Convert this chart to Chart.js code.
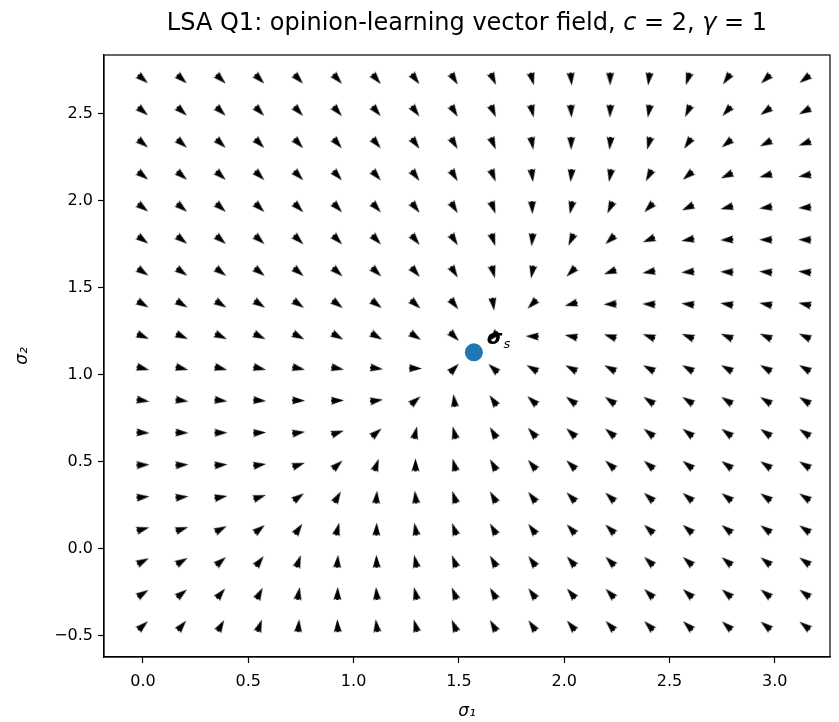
<!DOCTYPE html>
<html>
<head>
<meta charset="utf-8">
<script src="https://cdn.jsdelivr.net/npm/chart.js@4.4.1/dist/chart.umd.min.js"></script>
<style>
  html, body { margin: 0; padding: 0; background: #fff; }
  #wrap { width: 839px; height: 722px; position: relative; }
</style>
</head>
<body>
<div id="wrap"><canvas id="quiver"></canvas></div>
<script>
// sigma1 grid (columns)
const sigma1Grid = [0.000, 0.185, 0.370, 0.554, 0.739, 0.924, 1.109, 1.294, 1.478,
                    1.663, 1.848, 2.033, 2.218, 2.402, 2.587, 2.772, 2.957, 3.142];
// sigma2 grid (rows, top to bottom)
const sigma2Rows = [2.701, 2.516, 2.331, 2.146, 1.962, 1.777, 1.592, 1.407, 1.222,
                    1.038, 0.853, 0.668, 0.483, 0.298, 0.114, -0.071, -0.256, -0.441];
// arrow direction in degrees (counter-clockwise from +sigma1), one row per sigma2Rows entry
const dirRows = [
  [-40, -42, -44, -45, -47, -48, -50, -53, -58, -65, -75, -85, -90, -97, -108, -125, -137, -143],
  [-40, -42, -44, -46, -47, -49, -50, -53, -58, -66, -77, -87, -92, -100, -115, -132, -145, -152],
  [-39, -41, -43, -45, -47, -49, -50, -54, -59, -67, -80, -90, -95, -105, -125, -142, -153, -160],
  [-38, -40, -42, -44, -46, -48, -49, -53, -59, -68, -83, -95, -100, -118, -140, -155, -165, -170],
  [-37, -39, -41, -43, -45, -47, -48, -52, -58, -70, -88, -102, -115, -135, -155, -166, -172, -176],
  [-36, -38, -40, -42, -44, -46, -47, -51, -57, -72, -95, -115, -138, -158, -170, -177, 180, 179],
  [-34, -35, -37, -38, -40, -42, -44, -49, -58, -75, -100, -135, -160, -170, -176, 178, 176, 175],
  [-30, -31, -32, -33, -35, -37, -37, -42, -52, -82, -135, -165, -178, 178, 174, 171, 169, 167],
  [-23, -24, -25, -26, -28, -30, -30, -33, -45, -135, 178, 168, 162, 160, 158, 157, 156, 155],
  [-15, -14, -14, -13, -12, -11, -8, -2, 45, 138, 150, 152, 152, 152, 151, 151, 150, 150],
  [-9, -8, -7, -5, -2, 2, 8, 40, 97, 125, 138, 143, 145, 146, 147, 147, 148, 148],
  [-3, -2, 0, 3, 8, 18, 40, 77, 104, 121, 131, 137, 140, 142, 143, 144, 145, 146],
  [2, 3, 4, 8, 18, 42, 70, 90, 105, 120, 130, 136, 138, 140, 142, 144, 146, 148],
  [5, 6, 10, 18, 35, 60, 85, 97, 108, 120, 128, 134, 137, 139, 141, 143, 145, 147],
  [15, 18, 27, 38, 55, 75, 88, 100, 110, 120, 127, 132, 136, 138, 140, 142, 144, 146],
  [27, 30, 40, 52, 70, 85, 92, 102, 111, 120, 126, 131, 135, 137, 139, 141, 143, 145],
  [33, 38, 50, 62, 80, 88, 95, 103, 112, 120, 126, 130, 134, 136, 138, 140, 142, 144],
  [42, 50, 60, 70, 85, 92, 98, 105, 113, 120, 125, 130, 133, 135, 137, 139, 141, 143]
];
// steady state sigma_s
const fixedPoint = [1.571, 1.13];
const xTickValues = [0, 0.5, 1, 1.5, 2, 2.5, 3];
const yTickValues = [-0.5, 0, 0.5, 1, 1.5, 2, 2.5];

Chart.defaults.font.family = "DejaVu Sans";
Chart.defaults.color = "#000";

// build the flat point list for the quiver
const arrowPoints = [];
const arrowAngles = [];
sigma2Rows.forEach(function (y, r) {
    sigma1Grid.forEach(function (x, c) {
        arrowPoints.push({ x: x, y: y });
        arrowAngles.push(dirRows[r][c]);
    });
});

// matplotlib-like short quiver arrow (pointing +x, centred = pivot 'mid')
function arrowGlyph(len) {
    const size = Math.ceil(len) + 4;
    const cv = document.createElement("canvas");
    cv.width = size;
    cv.height = size;
    const g = cv.getContext("2d");
    g.translate(size / 2, size / 2);
    const h = len / 2, bw = 0.3 * len, sw = 0.1 * len, notch = 0.1 * len;
    g.beginPath();
    g.moveTo(-h, sw);
    g.lineTo(-h + notch, sw);
    g.lineTo(-h, bw);
    g.lineTo(h, 0);
    g.lineTo(-h, -bw);
    g.lineTo(-h + notch, -sw);
    g.lineTo(-h, -sw);
    g.closePath();
    g.fillStyle = "#000";
    g.fill();
    return cv;
}
const glyph = arrowGlyph(13);

function fmtTick(v) {
    const s = Math.abs(v).toFixed(1);
    return v < 0 ? "\u2212" + s : s;
}

// frame, title with italic symbols, and the sigma_s label
const decorations = {
    id: "decorations",
    afterDraw(chart) {
        const ctx = chart.ctx;
        const a = chart.chartArea;
        ctx.save();
        ctx.strokeStyle = "#000";
        ctx.lineWidth = 1.2;
        ctx.strokeRect(a.left, a.top, a.right - a.left, a.bottom - a.top);

        const parts = [
            ["LSA Q1: opinion-learning vector field, ", "24px DejaVu Sans"],
            ["c", "italic 24px DejaVu Sans"],
            [" = 2, ", "24px DejaVu Sans"],
            ["\u03b3", "italic 24px DejaVu Sans"],
            [" = 1", "24px DejaVu Sans"]
        ];
        let total = 0;
        parts.forEach(function (p) { ctx.font = p[1]; total += ctx.measureText(p[0]).width; });
        let tx = (a.left + a.right) / 2 - total / 2;
        ctx.fillStyle = "#000";
        ctx.textBaseline = "alphabetic";
        parts.forEach(function (p) {
            ctx.font = p[1];
            ctx.fillText(p[0], tx, 30);
            tx += ctx.measureText(p[0]).width;
        });

        const xs = chart.scales.x, ys = chart.scales.y;
        const lx = xs.getPixelForValue(fixedPoint[0]) + 13;
        const ly = ys.getPixelForValue(fixedPoint[1]) - 8;
        ctx.font = "italic bold 20px DejaVu Sans";
        ctx.fillText("\u03c3", lx, ly);
        const w = ctx.measureText("\u03c3").width;
        ctx.font = "italic 13px DejaVu Sans";
        ctx.fillText("s", lx + w + 1, ly + 4);
        ctx.restore();
    }
};

new Chart(document.getElementById("quiver"), {
    type: "scatter",
    data: {
        datasets: [
            {
                data: [{ x: fixedPoint[0], y: fixedPoint[1] }],
                pointRadius: 9,
                pointBackgroundColor: "#1f77b4",
                pointBorderWidth: 0
            },
            {
                data: arrowPoints,
                pointStyle: glyph,
                pointRadius: 6,
                pointRotation: function (c) { return -arrowAngles[c.dataIndex]; }
            }
        ]
    },
    options: {
        responsive: true,
        maintainAspectRatio: false,
        animation: false,
        events: [],
        layout: { padding: { top: 55, right: 9, left: 0, bottom: 0 } },
        plugins: { legend: { display: false }, tooltip: { enabled: false }, title: { display: false } },
        scales: {
            x: {
                type: "linear",
                min: -0.185,
                max: 3.262,
                afterBuildTicks: function (s) { s.ticks = xTickValues.map(function (v) { return { value: v }; }); },
                afterFit: function (s) { s.height = 65; },
                ticks: { font: { size: 16 }, padding: 9, maxRotation: 0, callback: fmtTick },
                grid: { drawOnChartArea: false, drawTicks: true, tickLength: 6, tickColor: "#000", tickWidth: 1.2 },
                border: { display: true, color: "#000", width: 1.2 },
                title: { display: true, text: "\u03c3\u2081", font: { size: 17, style: "italic" }, padding: { top: 0, bottom: 0 } }
            },
            y: {
                type: "linear",
                min: -0.621,
                max: 2.839,
                afterBuildTicks: function (s) { s.ticks = yTickValues.map(function (v) { return { value: v }; }); },
                afterFit: function (s) { s.width = 104; },
                ticks: { font: { size: 16 }, padding: 5, callback: fmtTick },
                grid: { drawOnChartArea: false, drawTicks: true, tickLength: 6, tickColor: "#000", tickWidth: 1.2 },
                border: { display: true, color: "#000", width: 1.2 },
                title: { display: true, text: "\u03c3\u2082", font: { size: 17, style: "italic" }, padding: { top: 12, bottom: 0 } }
            }
        }
    },
    plugins: [decorations]
});
</script>
</body>
</html>
